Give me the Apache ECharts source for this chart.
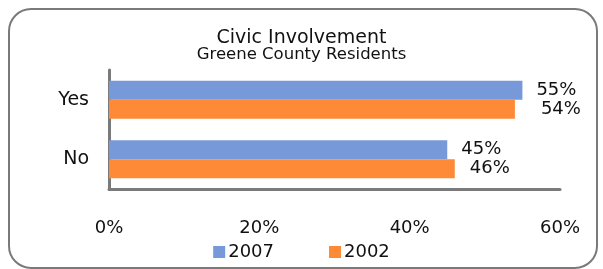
<!DOCTYPE html>
<html>
<head>
<meta charset="utf-8">
<script src="https://cdn.jsdelivr.net/npm/echarts@6/dist/echarts.min.js"></script>
<style>
  html, body { margin: 0; padding: 0; background: #fff; }
  #chart { width: 603px; height: 269px; }
</style>
</head>
<body>
<div id="chart"></div>
<script>
// values
const categories = ['Yes', 'No']
const years = ['2007', '2002']
const values2007 = [55, 45]
const values2002 = [54, 46]
const xTicks = [0, 20, 40, 60]

const FONT = '"DejaVu Sans", sans-serif'
const BLUE = '#7799d9'
const ORANGE = '#fe8936'
const GRAY = '#7a7a7a'

const chart = echarts.init(document.getElementById('chart'), null, { renderer: 'canvas' })

// categories drawn top-to-bottom, so reverse for the y category axis
const cats = categories.slice().reverse()
const s2007 = values2007.slice().reverse()
const s2002 = values2002.slice().reverse()

const labelOf = (v, dist) => ({
  value: v,
  label: { distance: dist }
})

chart.setOption({
  animation: false,
  textStyle: { fontFamily: FONT },
  graphic: [{
    type: 'rect',
    shape: { x: 9, y: 9, width: 588, height: 259, r: 22 },
    style: { fill: 'none', stroke: GRAY, lineWidth: 2 },
    silent: true
  }],
  title: [
    {
      text: 'Civic Involvement',
      left: 'center',
      top: 29,
      padding: 0,
      textStyle: { fontFamily: FONT, fontSize: 19, fontWeight: 'normal', color: '#111' }
    },
    {
      text: 'Greene County Residents',
      left: 'center',
      top: 46,
      padding: 0,
      textStyle: { fontFamily: FONT, fontSize: 16.5, fontWeight: 'normal', color: '#111' }
    }
  ],
  legend: {
    data: years,
    bottom: 3,
    left: 'center',
    itemWidth: 12,
    itemHeight: 12,
    itemGap: 55,
    icon: 'rect',
    textStyle: { fontFamily: FONT, fontSize: 18, color: '#111', padding: [0, 0, 0, -2] }
  },
  grid: { left: 109, right: 43, top: 70, bottom: 80, containLabel: false },
  xAxis: {
    type: 'value',
    min: xTicks[0],
    max: xTicks[xTicks.length - 1],
    interval: 20,
    axisLine: { show: true, lineStyle: { color: GRAY, width: 3 } },
    axisTick: { show: false },
    splitLine: { show: false },
    axisLabel: {
      margin: 30,
      fontFamily: FONT,
      fontSize: 18,
      color: '#111',
      formatter: (v) => v + '%'
    }
  },
  yAxis: {
    type: 'category',
    data: cats,
    axisLine: { show: true, lineStyle: { color: GRAY, width: 3 } },
    axisTick: { show: false },
    axisLabel: { margin: 20, fontFamily: FONT, fontSize: 19, color: '#111' }
  },
  series: [
    {
      name: years[0],
      type: 'bar',
      data: s2007.map((v) => labelOf(v, 14)),
      itemStyle: { color: BLUE },
      barWidth: 19,
      barGap: '0%',
      label: {
        show: true,
        position: 'right',
        fontFamily: FONT,
        fontSize: 18,
        color: '#111',
        formatter: (p) => p.value + '%'
      }
    },
    {
      name: years[1],
      type: 'bar',
      data: s2002.map((v, i) => labelOf(v, i === 0 ? 15 : 26)),
      itemStyle: { color: ORANGE },
      barWidth: 19,
      label: {
        show: true,
        position: 'right',
        fontFamily: FONT,
        fontSize: 18,
        color: '#111',
        formatter: (p) => p.value + '%'
      }
    }
  ]
})
</script>
</body>
</html>
